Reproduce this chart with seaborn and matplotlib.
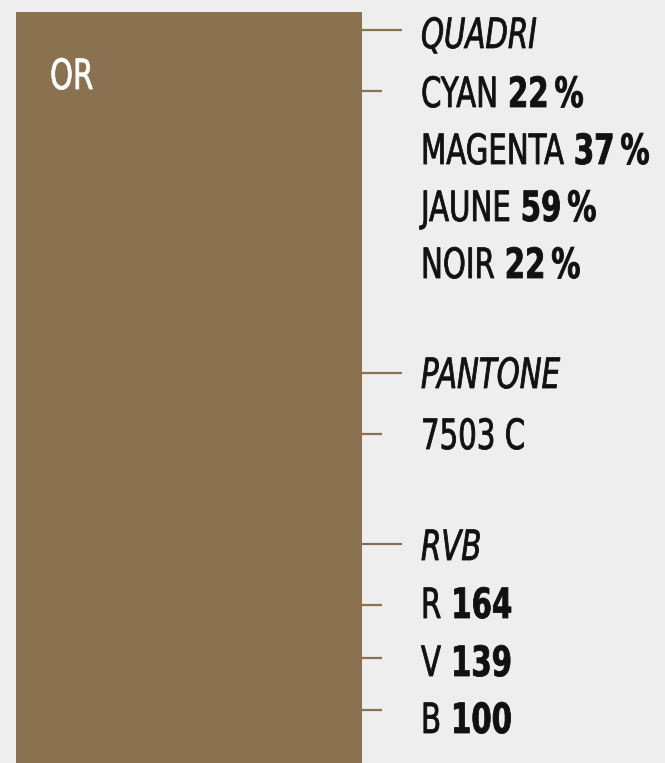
"""
Colour swatch card: OR (gold) with its QUADRI / PANTONE / RVB references.
Output: out.png
"""

import os

import matplotlib
matplotlib.use("Agg")
import matplotlib.pyplot as plt
from matplotlib import font_manager as fm
from matplotlib.patches import Rectangle
from matplotlib.patheffects import AbstractPathEffect
from matplotlib.transforms import Affine2D
import seaborn as sns

# -------------------------------
# Data
# -------------------------------
COLOUR_NAME = "OR"
SWATCH_HEX = "#8A714F"
HEADERS = ["QUADRI", "PANTONE", "RVB"]
QUADRI_LABELS = ["CYAN", "MAGENTA", "JAUNE", "NOIR"]
QUADRI_VALUES = ["22\u202f%", "37\u202f%", "59\u202f%", "22\u202f%"]
PANTONE_VALUES = ["7503 C"]
RVB_LABELS = ["R", "V", "B"]
RVB_VALUES = ["164", "139", "100"]

BG = "#EEEEEE"
INK = "#111111"
W, H = 665, 763
FS = 30
SX = 0.78      # horizontal squeeze, the reference uses a condensed face


class Squeeze(AbstractPathEffect):
    """Narrow the glyphs horizontally around the text's left edge,
    with a thin outline in the fill colour to keep the stems heavy."""

    def __init__(self, sx, stroke=0.6):
        super().__init__()
        self.sx = sx
        self.stroke = stroke

    def draw_path(self, renderer, gc, tpath, affine, rgbFace=None):
        gc0 = renderer.new_gc()
        gc0.copy_properties(gc)
        gc0.set_linewidth(self.stroke)
        if rgbFace is not None:
            gc0.set_foreground(rgbFace)
        renderer.draw_path(gc0, tpath, Affine2D().scale(self.sx, 1) + affine, rgbFace)
        gc0.restore()


def find_face(bold=False, italic=False):
    """Look for a condensed/narrow sans face on the machine."""
    pref = ["notosans-", "opensans", "liberationsansnarrow",
            "dejavusanscondensed", "robotocondensed"]
    cands = []
    for f in fm.fontManager.ttflist:
        low = os.path.basename(f.fname).lower()
        if "condensed" not in low and "narrow" not in low:
            continue
        if any(k in low for k in ("semi", "extra", "ultra", "light", "medium", "black", "thin")):
            continue
        rank = next((i for i, p in enumerate(pref) if low.startswith(p)), None)
        if rank is None:
            continue
        w = f.weight if isinstance(f.weight, int) else fm.weight_dict.get(f.weight, 400)
        if (w >= 600) != bold:
            continue
        if (f.style != "normal") != italic:
            continue
        cands.append((rank, abs(w - (700 if bold else 400)), f.fname))
    if cands:
        return fm.FontProperties(fname=sorted(cands)[0][2], size=FS)
    return fm.FontProperties(family="DejaVu Sans", size=FS,
                             weight="bold" if bold else "normal",
                             style="italic" if italic else "normal")


def main():
    sns.set_theme(style="white", rc={"figure.facecolor": BG, "axes.facecolor": BG})

    f_reg = find_face()
    f_bold = find_face(bold=True)
    f_it = find_face(italic=True)
    squeeze = [Squeeze(SX)]

    fig = plt.figure(figsize=(W / 100, H / 100), dpi=100)
    ax = fig.add_axes([0, 0, 1, 1])
    ax.set_xlim(0, W)
    ax.set_ylim(H, 0)
    ax.axis("off")
    renderer = fig.canvas.get_renderer()

    # swatch
    ax.add_patch(Rectangle((16, 12), 346, H, color=SWATCH_HEX, lw=0))
    ax.text(50, 89, COLOUR_NAME, color="white", fontproperties=f_reg,
            va="baseline", ha="left", path_effects=squeeze)

    # rows: (header?, label, bold value, baseline, tick y)
    rows = [(True, HEADERS[0], None, 48, 30)]
    q_base = [107, 164, 221, 278]
    for i, (lab, val) in enumerate(zip(QUADRI_LABELS, QUADRI_VALUES)):
        rows.append((False, lab, val, q_base[i], 91 if i == 0 else None))
    rows.append((True, HEADERS[1], None, 388, 373))
    rows.append((False, PANTONE_VALUES[0], None, 449, 434))
    rows.append((True, HEADERS[2], None, 560, 544))
    r_base = [618, 676, 733]
    r_tick = [605, 658, 710]
    for i, (lab, val) in enumerate(zip(RVB_LABELS, RVB_VALUES)):
        rows.append((False, lab, val, r_base[i], r_tick[i]))

    x_text = 421
    gap = 10
    for header, lab, val, base, tick in rows:
        if tick is not None:
            ax.hlines(tick, 362, 402 if header else 382, color=SWATCH_HEX, lw=1.6)
        t = ax.text(x_text, base, lab, color=INK, va="baseline", ha="left",
                    fontproperties=f_it if header else f_reg, path_effects=squeeze)
        if val:
            w_lab = t.get_window_extent(renderer).width * SX
            ax.text(x_text + w_lab + gap, base, val, color=INK, va="baseline",
                    ha="left", fontproperties=f_bold, path_effects=squeeze)

    fig.savefig("out.png", dpi=100, facecolor=BG)


if __name__ == "__main__":
    main()
